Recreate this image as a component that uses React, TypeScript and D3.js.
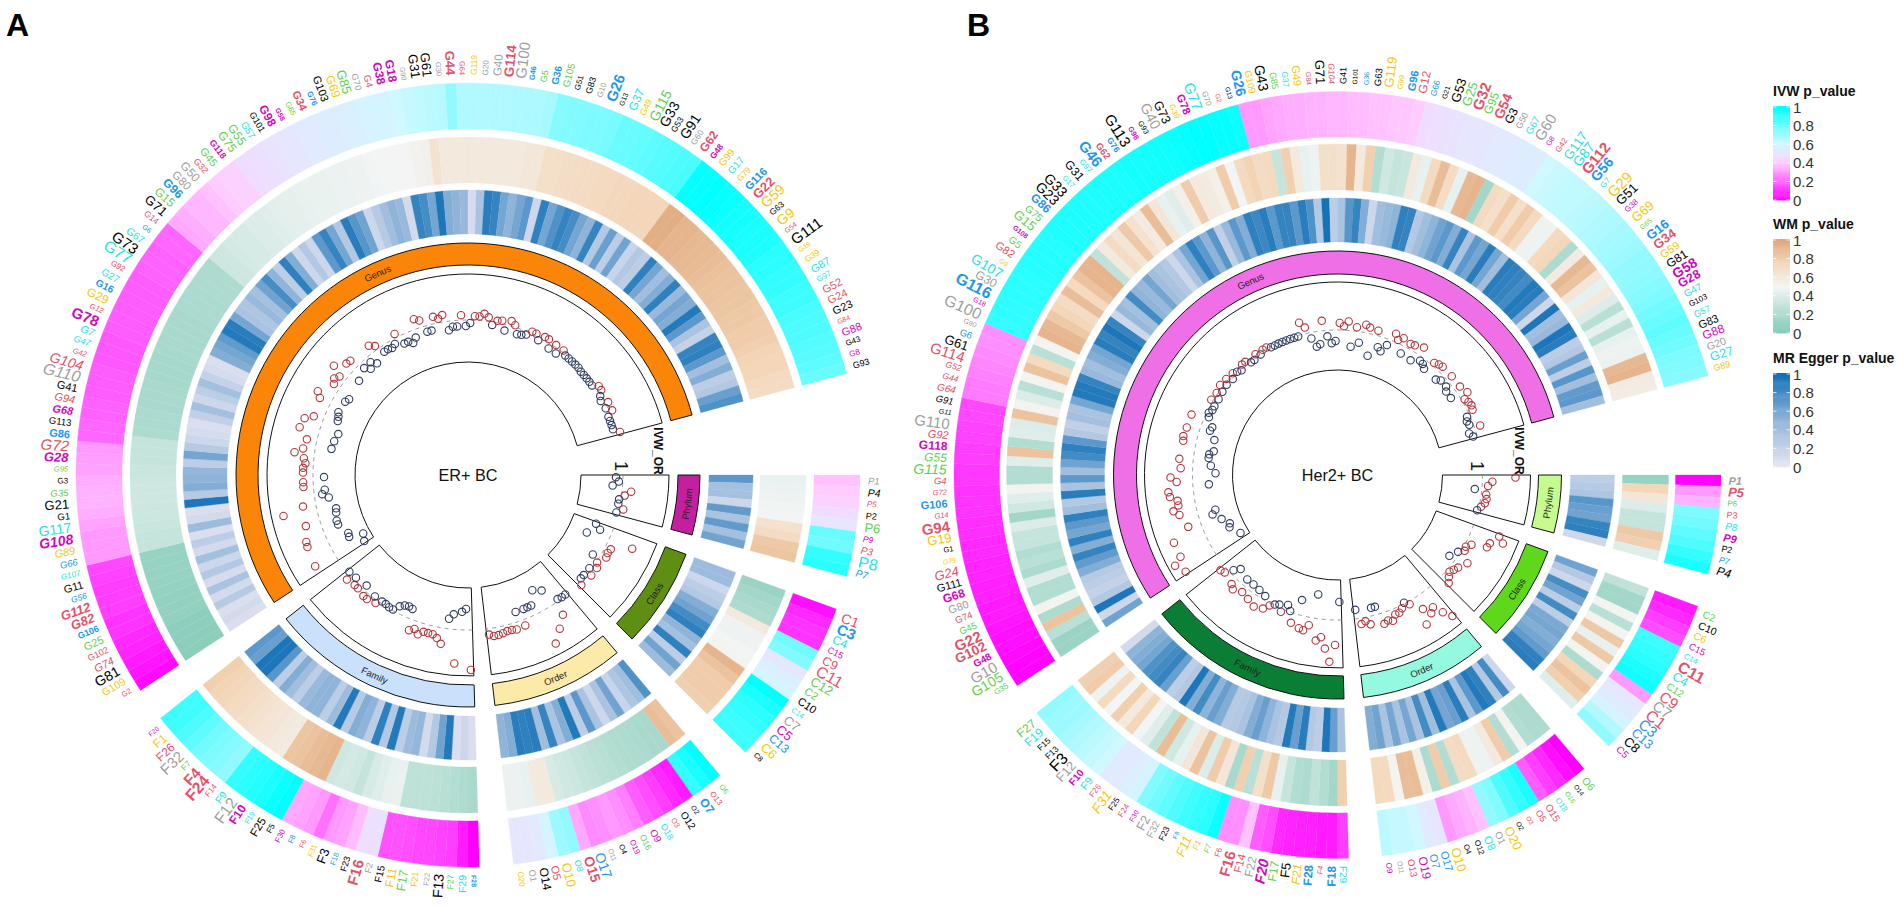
import * as d3 from "d3";

// taxa labels, clockwise from east, one list per sector and panel
const phylumLabelsA = "P1 P4 P5 P2 P6 P9 P3 P8 P7".split(" ");
const classLabelsA = "C1 C3 C4 C15 C9 C11 C12 C2 C10 C14 C7 C5 C13 C6 C8".split(" ");
const orderLabelsA = "O6 O13 O7 O2 O12 O3 O18 O9 O16 O19 O4 O11 O17 O15 O8 O10 O5 O14 O1 O20".split(" ");
const familyLabelsA = "F28 F29 F27 F13 F22 F21 F17 F11 F15 F2 F16 F23 F18 F3 F31 F6 F8 F30 F5 F25 F19 F10 F12 F9 F14 F24 F4 F7 F32 F26 F1 F20".split(" ");
const genusLabelsA = "G2 G109 G81 G74 G102 G25 G106 G82 G112 G56 G11 G107 G66 G89 G108 G117 G1 G21 G35 G3 G95 G28 G72 G86 G113 G68 G94 G41 G110 G104 G42 G47 G7 G78 G12 G29 G16 G27 G92 G77 G73 G67 G6 G14 G71 G15 G96 G80 G50 G32 G45 G118 G75 G55 G57 G101 G98 G58 G65 G34 G76 G103 G69 G85 G70 G4 G38 G18 G90 G31 G61 G30 G44 G64 G119 G20 G40 G114 G100 G46 G5 G36 G105 G51 G83 G10 G26 G13 G37 G49 G115 G33 G53 G91 G60 G62 G48 G99 G17 G79 G116 G22 G59 G63 G9 G54 G111 G19 G39 G87 G97 G52 G24 G23 G84 G88 G43 G8 G93".split(" ");

const phylumLabelsB = "P1 P5 P6 P3 P8 P9 P2 P7 P4".split(" ");
const classLabelsB = "C2 C10 C6 C15 C14 C11 C4 C12 C9 C7 C1 C3 C13 C8 C5".split(" ");
const orderLabelsB = "O6 O14 O16 O18 O15 O5 O3 O2 O20 O1 O8 O12 O4 O10 O17 O7 O19 O13 O11 O9".split(" ");
const familyLabelsB = "F29 F18 F4 F28 F21 F5 F17 F20 F22 F14 F16 F6 F7 F1 F11 F8 F23 F32 F2 F30 F24 F25 F31 F26 F9 F10 F12 F3 F13 F15 F19 F27".split(" ");
const genusLabelsB = "G35 G105 G10 G48 G102 G22 G45 G74 G80 G68 G111 G24 G79 G1 G19 G94 G14 G106 G72 G4 G115 G55 G118 G92 G110 G11 G91 G64 G44 G52 G114 G61 G6 G90 G100 G18 G116 G30 G107 G9 G82 G5 G108 G15 G75 G86 G23 G33 G17 G31 G97 G46 G62 G76 G113 G98 G93 G40 G73 G39 G78 G77 G70 G2 G13 G26 G109 G43 G85 G37 G49 G84 G71 G104 G41 G101 G36 G63 G119 G99 G96 G12 G66 G21 G53 G25 G32 G95 G54 G3 G50 G67 G60 G8 G42 G117 G87 G112 G56 G7 G29 G51 G38 G69 G65 G16 G34 G59 G81 G58 G28 G47 G103 G57 G83 G88 G20 G27 G89".split(" ");

// label font sizes
const phylumSizesA = [9.5, 10.5, 8, 9, 13, 8.5, 10, 16, 10];
const classSizesA = [14, 15, 12, 9, 12.5, 16, 13, 11, 11, 7.5, 13, 13, 12, 13, 7.5];
const orderSizesA = [7.5, 8, 12, 7, 10, 7.5, 9, 10, 8.5, 8, 7.5, 7, 14, 14, 9, 13, 11, 12, 9, 8];
const familySizesA = [7, 10.5, 8.5, 14, 7.5, 9, 12.5, 12, 10, 9, 15, 9, 7.5, 13, 7.5, 7, 7.5, 8, 8, 11.5, 7.5, 12, 16, 10.5, 8, 16, 15, 8.5, 15, 12, 12, 6.5];
const genusSizesA = [7.5, 10.5, 14, 11, 9, 11, 9, 13, 13, 8.5, 11, 8, 9.5, 11, 14, 14, 9.5, 13, 9.5, 8, 7.5, 13, 15, 11, 9.5, 11, 11, 11, 16, 14, 7.5, 9, 10.5, 15, 7.5, 12, 10, 10, 8, 16, 15, 10.5, 7, 8.5, 13, 12, 12, 11.5, 12, 9, 11, 9, 12, 12, 9.5, 9, 12, 7, 7.5, 11, 8, 11, 12, 13, 9, 9.5, 12, 12, 7, 13, 13, 7.5, 13, 7.5, 8.5, 8, 11.5, 13.5, 15, 7.5, 9, 10, 10, 8, 9, 8, 15, 7, 12, 9, 14, 14, 8.5, 14, 8.5, 12, 8.5, 10, 10, 8.5, 11, 13, 14, 8.5, 14, 7, 15, 7, 8.5, 11, 8, 11, 11, 11, 7, 11, 8, 8, 9];

const phylumSizesB = [11, 13, 8, 9, 10, 11, 9, 8.5, 12];
const classSizesB = [10, 10.5, 10, 9.5, 8, 16, 12.5, 10, 15, 15, 16, 15, 13, 13, 10];
const orderSizesB = [10.5, 6.5, 7, 8, 10, 9, 6.5, 7, 13, 10, 11, 8, 7.5, 13, 11, 11, 12, 9.5, 7, 8];
const familySizesB = [10, 12, 7.5, 12, 12, 13, 12, 14.5, 12, 11, 15, 8, 7.5, 8.5, 13, 6.5, 8.5, 10, 13, 7, 8, 8, 14, 8, 11, 10, 13, 16, 8.5, 8.5, 12, 12];
const genusSizesB = [8, 14, 15, 10, 13.5, 15, 9.5, 9.5, 11, 12, 11, 13, 7, 7.5, 13, 15, 7.5, 11, 7.5, 9.5, 14, 12, 12, 11, 15, 7, 9.5, 10, 8.5, 8.5, 15, 13, 9.5, 7, 16, 7, 16, 12, 14, 7, 11, 10, 7, 13, 10.5, 12, 14, 14, 7.5, 12, 8, 15, 9.5, 8.5, 15, 7.5, 7.5, 14.5, 12.5, 8, 11, 15, 8, 6.5, 6.5, 14, 9.5, 14, 9, 8.5, 11, 7, 13, 8.5, 9, 6.5, 7, 9.5, 13, 7.5, 11, 12, 8.5, 7, 13, 13, 15, 12, 14, 12, 9, 10, 15, 7.5, 8, 13, 14, 15, 14, 8, 15, 13, 8, 13, 7, 13, 13, 11, 12, 14, 12.5, 10, 8, 9, 11, 12, 10.5, 12.5, 9];

const boldLabelsA = "G26 G44 G114 G38 G18 G98 G62 G22 G96 G34 G86 G78 G118 G48 G46 G16 G116 G106 G76 G112 G82 G58 G36 G68 G28 G108 F24 F4 F16 F10 F28 O15 O7 C3".split(" ");
const italicLabelsA = "G72 G104 G94 G68 G28 G42 G47 G7 G110 G95 G35 G107 G56 G66 G89 G108 G12 G82 G112 G74 P1 P4 P5 P9 P7 P3".split(" ");
const boldLabelsB = "G26 G46 G116 G86 G106 G118 G68 G78 G98 G58 G28 G22 G102 G48 G112 G56 G16 G34 G62 G76 G96 G32 G54 G94 G108 F20 F28 F18 F16 F10 P1 P5 P9 C11".split(" ");
const italicLabelsB = "G55 G115 G4 G72 G14 G92 G52 G44 G64 G91 G11 G79 G24 G104 F20 F4 F21 F1 F7 F31 F11 P1 P5 P9 P8 P7 P4".split(" ");

// IVW p_value (percent) per taxon
const ivwPhylumA = [38, 40, 42, 46, 50, 80, 78, 90, 92];
const ivwClassA = [3, 8, 10, 10, 78, 75, 50, 55, 58, 100, 95, 92, 90, 88, 88];
const ivwOrderA = [100, 95, 90, 5, 8, 12, 15, 18, 25, 28, 30, 28, 27, 33, 72, 70, 58, 52, 50, 50];
const ivwFamilyA = [0, 5, 12, 13, 14, 14, 15, 16, 16, 48, 47, 37, 32, 30, 22, 30, 32, 33, 100, 98, 95, 93, 92, 90, 72, 74, 76, 78, 82, 85, 88, 88];
const ivwGenusA = [2, 4, 5, 7, 8, 10, 10, 12, 12, 12, 13, 14, 30, 30, 30, 32, 34, 35, 35, 34, 32, 31, 30, 20, 20, 19, 19, 18, 18, 18, 17, 17, 17, 18, 18, 18, 18, 18, 18, 19, 19, 19, 20, 20, 33, 34, 36, 36, 38, 40, 42, 42, 46, 47, 48, 49, 50, 50, 52, 52, 54, 54, 55, 56, 57, 58, 58, 60, 62, 63, 64, 65, 72, 66, 66, 66, 66, 66, 67, 67, 67, 68, 74, 75, 75, 76, 76, 77, 80, 80, 81, 82, 83, 84, 85, 86, 99, 99, 100, 99, 98, 96, 96, 95, 95, 94, 92, 92, 90, 90, 88, 88, 86, 85, 85, 84, 83, 82, 80];

const ivwPhylumB = [0, 30, 35, 76, 78, 82, 85, 90, 95];
const ivwClassB = [5, 8, 12, 15, 88, 90, 92, 95, 97, 30, 50, 53, 58, 66, 72];
const ivwOrderB = [0, 3, 8, 12, 18, 95, 90, 85, 75, 72, 38, 35, 33, 30, 50, 52, 60, 62, 62, 64];
const ivwFamilyB = [12, 5, 5, 6, 6, 7, 8, 15, 18, 38, 28, 28, 98, 92, 90, 88, 85, 82, 78, 75, 58, 55, 52, 52, 60, 62, 64, 66, 68, 70, 70, 72];
const ivwGenusB = [1, 1, 2, 3, 3, 4, 5, 5, 6, 6, 7, 7, 8, 8, 9, 9, 10, 10, 10, 11, 11, 12, 12, 13, 13, 14, 14, 24, 24, 25, 26, 27, 28, 28, 90, 91, 91, 92, 92, 92, 93, 93, 93, 93, 94, 94, 94, 94, 94, 94, 95, 95, 95, 96, 96, 96, 97, 97, 98, 99, 100, 100, 99, 99, 98, 30, 30, 32, 33, 34, 34, 35, 35, 36, 36, 37, 37, 38, 38, 39, 39, 40, 46, 47, 48, 49, 50, 50, 51, 52, 52, 53, 54, 54, 60, 61, 62, 63, 63, 64, 65, 66, 67, 68, 69, 70, 72, 72, 73, 74, 76, 78, 80, 82, 80, 78, 76, 75, 74];

// WM p_value (percent)
const wmPhylumA = [46, 47, 48, 49, 50, 66, 70, 82, 84];
const wmClassA = [12, 15, 18, 20, 60, 48, 48, 50, 52, 92, 85, 80, 80, 80, 78];
const wmOrderA = [85, 88, 18, 18, 19, 20, 21, 22, 24, 26, 28, 30, 33, 35, 38, 60, 60, 45, 47, 47];
const wmFamilyA = [18, 20, 22, 24, 26, 27, 27, 27, 46, 45, 42, 38, 30, 35, 36, 34, 92, 90, 88, 85, 84, 58, 60, 62, 64, 66, 68, 70, 72, 74, 76, 78];
const wmGenusA = [5, 5, 6, 6, 8, 8, 8, 9, 10, 10, 10, 10, 30, 30, 32, 33, 33, 34, 34, 33, 32, 30, 30, 30, 20, 19, 19, 18, 18, 18, 17, 17, 17, 18, 18, 18, 18, 18, 19, 19, 19, 20, 20, 20, 33, 34, 36, 38, 38, 40, 40, 42, 43, 44, 44, 45, 46, 46, 46, 47, 47, 48, 48, 49, 50, 50, 51, 51, 53, 54, 65, 60, 60, 60, 60, 60, 60, 60, 60, 60, 61, 61, 68, 68, 69, 69, 70, 70, 72, 72, 73, 73, 74, 74, 74, 75, 96, 96, 92, 92, 90, 90, 89, 88, 86, 85, 85, 84, 84, 82, 82, 80, 80, 78, 76, 75, 75, 72, 70];

const wmPhylumB = [10, 75, 62, 40, 30, 30, 82, 78, 42];
const wmClassB = [28, 15, 15, 52, 25, 52, 82, 45, 82, 52, 20, 75, 85, 78, 42];
const wmOrderB = [20, 20, 22, 52, 22, 80, 60, 48, 48, 72, 70, 22, 80, 20, 55, 88, 88, 52, 72, 72];
const wmFamilyB = [78, 15, 22, 28, 20, 22, 30, 45, 82, 68, 25, 78, 18, 62, 80, 40, 85, 62, 45, 35, 88, 28, 42, 50, 75, 60, 78, 50, 72, 48, 80, 78];
const wmGenusB = [12, 12, 25, 85, 20, 52, 22, 22, 42, 20, 25, 22, 30, 30, 40, 15, 35, 42, 52, 22, 22, 42, 85, 22, 42, 40, 85, 52, 40, 25, 52, 85, 72, 25, 52, 92, 90, 82, 75, 70, 88, 72, 85, 92, 92, 28, 60, 70, 64, 82, 66, 58, 88, 62, 45, 42, 55, 80, 60, 58, 55, 80, 50, 72, 76, 70, 72, 30, 78, 60, 45, 48, 68, 68, 66, 92, 60, 78, 22, 35, 30, 32, 60, 45, 72, 88, 70, 45, 90, 92, 15, 72, 68, 80, 68, 80, 72, 48, 48, 72, 75, 20, 58, 90, 85, 62, 45, 60, 40, 25, 45, 25, 45, 48, 47, 90, 92, 58, 57];

// MR Egger p_value (percent)
const eggerPhylumA = [70, 38, 38, 15, 68, 35, 68, 38, 62];
const eggerClassA = [42, 42, 15, 25, 30, 55, 62, 80, 88, 50, 38, 88, 25, 62, 42];
const eggerOrderA = [75, 40, 32, 18, 62, 35, 15, 35, 70, 25, 92, 55, 35, 85, 40, 90, 88, 90, 55, 50];
const eggerFamilyA = [8, 15, 8, 92, 62, 30, 12, 48, 42, 25, 92, 30, 88, 25, 50, 55, 28, 92, 42, 25, 50, 50, 45, 25, 40, 55, 25, 72, 95, 95, 65, 70];
const eggerGenusA = [8, 12, 8, 28, 12, 35, 10, 30, 15, 38, 12, 25, 8, 42, 12, 8, 95, 28, 55, 50, 48, 25, 60, 28, 15, 10, 8, 22, 38, 15, 25, 38, 20, 10, 8, 55, 60, 68, 92, 90, 60, 35, 32, 45, 38, 62, 78, 50, 25, 88, 55, 15, 30, 15, 70, 85, 60, 30, 90, 72, 62, 15, 28, 40, 50, 45, 12, 85, 78, 60, 95, 55, 50, 45, 10, 35, 90, 85, 60, 50, 60, 70, 15, 88, 60, 75, 85, 78, 60, 50, 85, 30, 65, 25, 62, 18, 30, 25, 88, 60, 40, 55, 88, 45, 60, 55, 92, 70, 35, 20, 85, 88, 70, 40, 55, 25, 30, 65, 75];

const eggerPhylumB = [25, 28, 32, 72, 65, 62, 85, 88, 14];
const eggerClassB = [62, 30, 15, 78, 62, 25, 80, 25, 58, 60, 55, 60, 68, 88, 90];
const eggerOrderB = [15, 80, 30, 88, 92, 70, 35, 90, 65, 60, 92, 40, 80, 35, 60, 35, 60, 35, 62, 55];
const eggerFamilyB = [35, 65, 95, 25, 30, 90, 65, 92, 30, 35, 50, 65, 55, 35, 30, 28, 55, 65, 50, 80, 55, 95, 30, 25, 65, 85, 80, 75, 60, 55, 50, 12];
const eggerGenusB = [62, 15, 95, 30, 20, 25, 28, 55, 68, 85, 55, 88, 60, 70, 88, 40, 30, 90, 35, 70, 40, 62, 80, 88, 70, 30, 22, 38, 35, 60, 92, 92, 85, 45, 40, 55, 60, 90, 85, 95, 85, 15, 45, 38, 80, 50, 45, 60, 40, 35, 30, 15, 35, 60, 88, 70, 50, 72, 22, 45, 70, 55, 88, 82, 90, 70, 85, 85, 70, 90, 75, 30, 98, 25, 35, 72, 85, 55, 15, 40, 45, 50, 88, 85, 30, 40, 50, 62, 70, 55, 85, 35, 70, 60, 90, 60, 40, 90, 88, 85, 80, 92, 90, 60, 15, 95, 40, 45, 95, 90, 25, 30, 65, 25, 72, 40, 68, 70, 40];

// IVW odds ratios
const orPhylumA = [0.93, 0.96, 0.9, 1.09, 1.03, 0.98, 0.98, 1.04, 0.98];
const orClassA = [0.82, 0.88, 1.25, 0.77, 1.06, 1.05, 1.06, 0.93, 1.01, 1.04, 0.98, 1.04, 0.98, 0.98, 1.03];
const orOrderA = [0.99, 0.99, 0.98, 1.14, 0.82, 1.24, 0.77, 1.35, 0.9, 0.9, 0.9, 1.06, 0.9, 1.07, 1.06, 1.06, 1.07, 1.08, 1.08, 1.06];
const orFamilyA = [1.4, 0.79, 0.82, 1.34, 0.85, 0.9, 1.16, 1.11, 1.08, 1.08, 1.08, 1.12, 1.08, 1.11, 0.9, 0.89, 0.9, 0.93, 0.99, 0.99, 0.98, 0.98, 1.03, 0.98, 1.05, 1.05, 0.95, 1.03, 1.03, 0.97, 1.05, 0.98];
const orGenusA = [0.68, 1.23, 0.65, 0.79, 0.78, 1.21, 1.2, 0.84, 0.84, 1.15, 0.82, 0.81, 1.34, 1.13, 0.86, 0.92, 0.89, 1.1, 1.1, 0.89, 1.1, 1.1, 1.08, 1.1, 1.2, 1.12, 0.84, 1.1, 0.83, 1.2, 0.81, 1.18, 1.1, 0.86, 0.87, 0.89, 1.12, 1.17, 0.88, 0.86, 1.07, 1.1, 1.07, 1.18, 0.89, 1.1, 1.09, 0.94, 0.89, 0.94, 0.89, 1.08, 1.04, 0.94, 0.94, 0.93, 0.95, 1.04, 0.91, 0.91, 0.88, 0.92, 1.1, 1.07, 0.94, 0.94, 1.07, 1.04, 1.07, 0.91, 0.94, 0.94, 1.05, 0.94, 0.97, 1.04, 1.04, 1.07, 1.04, 0.97, 1.02, 1.03, 0.94, 1.05, 1.02, 0.94, 0.95, 0.97, 1.02, 1.02, 0.97, 1.03, 1.03, 0.95, 1.02, 0.95, 1.02, 0.99, 0.99, 0.99, 0.99, 0.99, 0.98, 0.98, 0.98, 0.98, 0.98, 1.03, 1.03, 0.99, 0.97, 1.03, 0.98, 1.03, 0.97, 0.97, 0.97, 0.97, 1.03];

const orPhylumB = [1.33, 1.1, 1.06, 0.93, 1.05, 1.06, 1.05, 1.02, 0.99];
const orClassB = [1.28, 1.34, 1.22, 1.21, 1.06, 1.02, 1.03, 0.98, 1.12, 0.93, 1.07, 1.05, 1.03, 1.06, 1.1];
const orOrderB = [1.37, 1.28, 1.18, 1.22, 1.14, 1.29, 1.03, 0.99, 1.03, 1.06, 1.06, 1.11, 1.09, 1.11, 0.92, 0.92, 1.08, 1.04, 1.06, 0.91];
const orFamilyB = [0.82, 1.25, 1.42, 1.29, 1.18, 1.22, 0.76, 1.08, 1.14, 1.13, 0.85, 1.1, 0.99, 0.94, 1.03, 0.97, 0.99, 1.02, 1.08, 0.96, 1.11, 0.94, 1.08, 0.93, 1.06, 0.93, 1.1, 1.07, 0.9, 0.96, 1.04, 1.06];
const orGenusB = [1.35, 0.68, 1.41, 1.32, 0.75, 0.73, 1.32, 0.79, 1.13, 0.86, 0.82, 1.18, 1.23, 1.17, 1.17, 1.24, 1.25, 0.84, 1.16, 1.22, 0.77, 1.12, 0.82, 1.14, 0.85, 0.85, 0.81, 1.13, 1.14, 0.83, 1.13, 0.9, 0.89, 1.13, 0.96, 0.98, 0.96, 0.96, 1.02, 0.96, 1.01, 0.97, 1.03, 0.98, 1.02, 0.97, 1.01, 0.99, 0.97, 1.01, 1.01, 0.97, 0.97, 1.01, 0.98, 1.01, 1.01, 0.99, 0.99, 0.99, 0.99, 0.99, 0.99, 0.99, 0.99, 1.12, 1.06, 0.94, 0.85, 0.87, 1.1, 0.94, 0.87, 0.89, 1.07, 1.04, 1.09, 0.84, 1.04, 0.89, 1.08, 1.06, 0.78, 1.05, 0.89, 0.86, 0.94, 1.08, 1.03, 1.07, 0.92, 1.05, 1.06, 0.91, 1.09, 0.96, 0.95, 0.92, 1.03, 1.05, 1.06, 0.92, 0.95, 1.06, 0.95, 0.92, 1.06, 0.92, 1.09, 1.03, 1.05, 1.06, 1.05, 0.97, 0.95, 0.96, 1.06, 0.93, 0.96];

const sectorNames = ["Phylum", "Class", "Order", "Family", "Genus"];
const sectorColorsA = ["#c41f9f", "#5f8f12", "#fbeaa8", "#c9e1fb", "#fb8508"];
const sectorColorsB = ["#c6fb90", "#5fd81c", "#95f9df", "#0b7e35", "#ef6fe6"];

const black = "#000000", red = "#DF536B", green = "#61D04F", blue = "#2297E6";
const cyan = "#28E2E5", magenta = "#CD0BBC", yellow = "#F5C710", gray = "#9E9E9E";
// label colour goes with the last digit of the taxon number, index 0..9
const digitColors: Record<string, string[]> = {
  G: [gray, black, red, black, red, green, blue, cyan, magenta, yellow],
  F: [magenta, yellow, gray, black, red, black, red, green, blue, cyan],
  O: [yellow, gray, black, red, black, red, green, blue, cyan, magenta],
  C: [black, red, green, blue, cyan, magenta, yellow, gray, black, red],
  P: [black, gray, black, red, black, red, green, blue, cyan, magenta],
};

const ivwColor = d3.scaleLinear<string>().domain([0, 40, 50, 60, 100]).range(["#ff00ff", "#ffccff", "#e6e6ff", "#d0f8ff", "#00ffff"]);
const wmColor = d3.scaleLinear<string>().domain([0, 50, 75, 100]).range(["#7fcab6", "#f3f5f5", "#f4d6b8", "#dfa679"]);
const eggerColor = d3.scaleLinear<string>().domain([0, 50, 100]).range(["#e8e6f2", "#8fb4d9", "#0f6fb5"]);

const legendTicks = [0, 20, 40, 60, 80, 100];
const font = "'Liberation Sans', Arial, sans-serif";

const itemDeg = (345 - 4 * 5) / 195; // 15 deg opening, 5 deg between sectors

function toArc(deg: number) {
  return ((deg + 90) * Math.PI) / 180;
}

function CircosPanel(props: any) {
  const { cx, cy, rInner, rPlot, band, egger, wm, ivw, labelR, orDomain, labels, sizes, bold, italic, ivwV, wmV, eggerV, orV, colors, name, axisR } = props;
  const arc = d3.arc();
  let start = 0;
  const sectors = sectorNames.map((nm, s) => {
    const n = labels[s].length;
    const sec = { nm, s, n, start, end: start + n * itemDeg };
    start = sec.end + 5;
    return sec;
  });
  const radius = d3.scaleLinear().domain(orDomain).range([rInner, rPlot]);

  function ring(values: number[], color: any, rr: number[], sec: any) {
    const angle = d3.scaleLinear().domain([0, sec.n]).range([sec.start, sec.end]);
    return values.map((v, i) => {
      const c = color(v);
      return (
        <path
          key={i}
          d={arc({ innerRadius: rr[0], outerRadius: rr[1], startAngle: toArc(angle(i)), endAngle: toArc(angle(i + 1)) }) as string}
          fill={c}
          stroke={c}
          strokeWidth={0.3}
        />
      );
    });
  }

  return (
    <g transform={`translate(${cx},${cy})`} fontFamily={font}>
      {sectors.map((sec) => {
        const mid = (sec.start + sec.end) / 2;
        const bandR = (band[0] + band[1]) / 2;
        const angle = d3.scaleLinear().domain([0, sec.n]).range([sec.start, sec.end]);
        const one = radius(1);
        const dash = d3.range(sec.start, sec.end, 0.5).map((d) => [one * Math.cos((d * Math.PI) / 180), one * Math.sin((d * Math.PI) / 180)]);
        return (
          <g key={sec.nm}>
            {ring(ivwV[sec.s], ivwColor, ivw, sec)}
            {ring(wmV[sec.s], wmColor, wm, sec)}
            {ring(eggerV[sec.s], eggerColor, egger, sec)}
            <path
              d={arc({ innerRadius: band[0], outerRadius: band[1], startAngle: toArc(sec.start), endAngle: toArc(sec.end) }) as string}
              fill={colors[sec.s]}
              stroke="#111"
              strokeWidth={1}
            />
            <text
              transform={`translate(${bandR * Math.cos((mid * Math.PI) / 180)},${bandR * Math.sin((mid * Math.PI) / 180)}) rotate(${mid < 180 ? mid - 90 : mid + 90})`}
              textAnchor="middle"
              dominantBaseline="central"
              fontSize={9.5}
              fill="#222"
            >
              {sec.nm}
            </text>
            <path
              d={arc({ innerRadius: rInner, outerRadius: rPlot, startAngle: toArc(sec.start), endAngle: toArc(sec.end) }) as string}
              fill="#fff"
              stroke="#111"
              strokeWidth={1}
            />
            <path d={d3.line()(dash as any) as string} fill="none" stroke="#8a8a8a" strokeWidth={0.9} strokeDasharray="4 4" />
            {orV[sec.s].map((v: number, i: number) => {
              const a = (angle(i + 0.5) * Math.PI) / 180;
              return (
                <circle
                  key={i}
                  cx={radius(v) * Math.cos(a)}
                  cy={radius(v) * Math.sin(a)}
                  r={3.7}
                  fill="none"
                  stroke={v >= 1 ? "#b2383c" : "#2f3d5f"}
                  strokeWidth={1.1}
                />
              );
            })}
            {labels[sec.s].map((lab: string, i: number) => {
              const deg = angle(i + 0.5);
              const a = (deg * Math.PI) / 180;
              const right = Math.cos(a) > 0;
              const digit = +lab[lab.length - 1];
              return (
                <text
                  key={lab}
                  transform={`translate(${labelR * Math.cos(a)},${labelR * Math.sin(a)}) rotate(${right ? deg : deg - 180})`}
                  textAnchor={right ? "start" : "end"}
                  dominantBaseline="central"
                  fontSize={sizes[sec.s][i]}
                  fontWeight={bold.includes(lab) ? "bold" : "normal"}
                  fontStyle={italic.includes(lab) ? "italic" : "normal"}
                  fill={digitColors[lab[0]][digit]}
                >
                  {lab}
                </text>
              );
            })}
          </g>
        );
      })}
      <text transform={`translate(${axisR[0]},-9) rotate(90)`} textAnchor="middle" dominantBaseline="central" fontSize={18} fill="#111">
        1
      </text>
      <text transform={`translate(${axisR[1]},-24) rotate(90)`} textAnchor="middle" dominantBaseline="central" fontSize={12} fontWeight="bold" fill="#111">
        IVW_OR
      </text>
      <text x={0} y={0} textAnchor="middle" dominantBaseline="central" fontSize={16.2} fill="#111">
        {name}
      </text>
    </g>
  );
}

function Legend({ x, y, title, color }: { x: number; y: number; title: string; color: any }) {
  const h = 101;
  const w = 17;
  const pos = d3.scaleLinear().domain([0, 100]).range([y + 12 + h - 4, y + 12 + 4]);
  const steps = d3.range(0, 100.01, 1);
  return (
    <g fontFamily={font}>
      <text x={x} y={y} fontSize={14} fontWeight="bold" fill="#111" dominantBaseline="central">
        {title}
      </text>
      {steps.map((s) => (
        <rect key={s} x={x} y={pos(s) - 1} width={w} height={1.4} fill={color(s)} />
      ))}
      {legendTicks.map((t) => (
        <g key={t}>
          <line x1={x} x2={x + 3.5} y1={pos(t)} y2={pos(t)} stroke="#fff" strokeWidth={0.8} />
          <line x1={x + w - 3.5} x2={x + w} y1={pos(t)} y2={pos(t)} stroke="#fff" strokeWidth={0.8} />
          <text x={x + w + 3} y={pos(t)} fontSize={15} fill="#333" dominantBaseline="central">
            {t / 100}
          </text>
        </g>
      ))}
    </g>
  );
}

export default function App() {
  return (
    <svg width={1902} height={906} style={{ position: "absolute", left: 0, top: 0, background: "#fff" }}>
      <text x={6} y={36} fontFamily={font} fontSize={32} fontWeight="bold">
        A
      </text>
      <text x={967} y={36} fontFamily={font} fontSize={32} fontWeight="bold">
        B
      </text>
      <CircosPanel
        cx={468}
        cy={475}
        rInner={113}
        rPlot={201}
        band={[210, 232]}
        egger={[241, 285]}
        wm={[292, 338]}
        ivw={[346, 392]}
        labelR={400}
        orDomain={[0.58, 1.46]}
        axisR={[153, 190]}
        name="ER+ BC"
        colors={sectorColorsA}
        labels={[phylumLabelsA, classLabelsA, orderLabelsA, familyLabelsA, genusLabelsA]}
        sizes={[phylumSizesA, classSizesA, orderSizesA, familySizesA, genusSizesA]}
        bold={boldLabelsA}
        italic={italicLabelsA}
        ivwV={[ivwPhylumA, ivwClassA, ivwOrderA, ivwFamilyA, ivwGenusA]}
        wmV={[wmPhylumA, wmClassA, wmOrderA, wmFamilyA, wmGenusA]}
        eggerV={[eggerPhylumA, eggerClassA, eggerOrderA, eggerFamilyA, eggerGenusA]}
        orV={[orPhylumA, orClassA, orOrderA, orFamilyA, orGenusA]}
      />
      <CircosPanel
        cx={1337.5}
        cy={475}
        rInner={105}
        rPlot={193}
        band={[201, 224]}
        egger={[233, 277]}
        wm={[285, 331]}
        ivw={[338, 383.5]}
        labelR={391}
        orDomain={[0.6, 1.48]}
        axisR={[139, 181]}
        name="Her2+ BC"
        colors={sectorColorsB}
        labels={[phylumLabelsB, classLabelsB, orderLabelsB, familyLabelsB, genusLabelsB]}
        sizes={[phylumSizesB, classSizesB, orderSizesB, familySizesB, genusSizesB]}
        bold={boldLabelsB}
        italic={italicLabelsB}
        ivwV={[ivwPhylumB, ivwClassB, ivwOrderB, ivwFamilyB, ivwGenusB]}
        wmV={[wmPhylumB, wmClassB, wmOrderB, wmFamilyB, wmGenusB]}
        eggerV={[eggerPhylumB, eggerClassB, eggerOrderB, eggerFamilyB, eggerGenusB]}
        orV={[orPhylumB, orClassB, orOrderB, orFamilyB, orGenusB]}
      />
      <Legend x={1773} y={91} title="IVW p_value" color={ivwColor} />
      <Legend x={1773} y={224} title="WM p_value" color={wmColor} />
      <Legend x={1773} y={358} title="MR Egger p_value" color={eggerColor} />
    </svg>
  );
}
